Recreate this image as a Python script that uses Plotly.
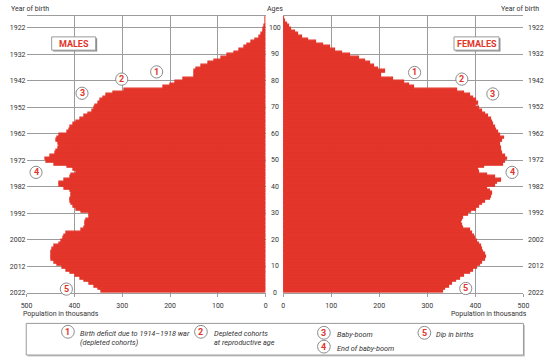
import plotly.graph_objects as go

W, H = 550, 363

ages = list(range(0, 105))
males = [344, 350, 358, 368, 378, 388, 398, 408, 417, 425,
         435, 441, 447, 448, 448, 448, 445, 441, 432, 427,
         423, 420, 416, 386, 378, 377, 376, 374, 368, 368,
         385, 395, 402, 405, 407, 408, 405, 406, 407, 420,
         431, 430, 420, 408, 405, 396, 402, 415, 441, 458,
         460, 450, 440, 437, 433, 431, 434, 437, 436, 432,
         415, 410, 407, 402, 395, 387, 378, 370, 362, 358,
         355, 350, 346, 339, 332, 318, 295, 214, 199, 189,
         171, 148, 148, 148, 144, 134, 120, 107, 93, 79,
         66, 55, 45, 38, 30, 22, 12, 8, 5, 3.5,
         2, 1.2, 0.8, 0.5, 0.3]
females = [332, 338, 346, 352, 360, 368, 377, 388, 396, 404,
           410, 414, 420, 422, 420, 416, 414, 411, 408, 404,
           400, 398, 394, 388, 374, 372, 371, 372, 375, 385,
           392, 402, 408, 415, 420, 430, 433, 435, 430, 425,
           440, 446, 453, 440, 425, 408, 405, 418, 458, 462,
           466, 462, 456, 453, 453, 452, 452, 455, 459, 452,
           448, 443, 440, 437, 434, 432, 426, 420, 414, 408,
           400, 405, 402, 395, 390, 377, 363, 272, 262, 252,
           228, 203, 204, 213, 198, 190, 182, 170, 158, 140,
           122, 108, 98, 84, 68, 52, 40, 32, 24, 17,
           12, 8, 5, 3, 1]

age_ticks = list(range(0, 101, 10))
year_labels = [str(2022 - a) for a in age_ticks]
pop_ticks = [0, 100, 200, 300, 400, 500]

RED = "#E3342A"
GRID = "#9c9c9c"
TXT = "#333333"
FONT = "Roboto, Liberation Sans, sans-serif"
FS = 7


def px(x):
    return x / W


def py(y):
    return 1 - y / H


fig = go.Figure()
fig.add_trace(go.Bar(y=[a + 0.5 for a in ages], x=males, orientation="h", width=1,
                     marker=dict(color=RED, line=dict(width=1.2, color=RED)),
                     xaxis="x", yaxis="y", showlegend=False, hoverinfo="skip"))
fig.add_trace(go.Bar(y=[a + 0.5 for a in ages], x=females, orientation="h", width=1,
                     marker=dict(color=RED, line=dict(width=1.2, color=RED)),
                     xaxis="x2", yaxis="y2", showlegend=False, hoverinfo="skip"))

ydom = [py(296), py(16)]
common_x = dict(tickvals=pop_ticks, showgrid=True, gridcolor=GRID, gridwidth=1,
                showline=True, linecolor=GRID, linewidth=1, mirror=True,
                ticks="outside", ticklen=3, tickcolor=GRID, ticklabelstandoff=3,
                tickfont=dict(size=FS, color=TXT, family=FONT), zeroline=False, fixedrange=True)
common_y = dict(range=[0, 104.5], tickvals=age_ticks, ticktext=year_labels,
                showgrid=True, gridcolor=GRID, gridwidth=1, zeroline=False,
                ticks="", tickfont=dict(size=FS, color=TXT, family=FONT), domain=ydom,
                showline=False)

fig.update_layout(
    width=W, height=H, margin=dict(l=0, r=0, t=0, b=0),
    paper_bgcolor="white", plot_bgcolor="white", bargap=0,
    font=dict(family=FONT, color=TXT),
    xaxis=dict(domain=[px(21), px(265.5)], range=[500, 0], anchor="y", **common_x),
    xaxis2=dict(domain=[px(283.3), px(529)], range=[0, 500], anchor="y2", **common_x),
    yaxis=dict(anchor="x", side="left", **common_y),
    yaxis2=dict(anchor="x2", side="right", showticklabels=False,
                **{k: v for k, v in common_y.items()}),
)

ann = []
shapes = []

# centre age labels and right-hand year labels
for a, yl in zip(age_ticks, year_labels):
    ann.append(dict(x=px(274.5), y=a, xref="paper", yref="y", text=str(a), showarrow=False,
                    font=dict(size=FS, color=TXT, family=FONT), xanchor="center", yanchor="middle"))
    ann.append(dict(x=px(531.5), y=a, xref="paper", yref="y2", text=yl, showarrow=False,
                    font=dict(size=FS, color=TXT, family=FONT), xanchor="left", yanchor="middle"))

# header texts
ann.append(dict(x=px(3), y=py(9), xref="paper", yref="paper", text="Year of birth", showarrow=False,
                font=dict(size=FS, color=TXT, family=FONT), xanchor="left", yanchor="middle"))
ann.append(dict(x=px(547), y=py(9), xref="paper", yref="paper", text="Year of birth", showarrow=False,
                font=dict(size=FS, color=TXT, family=FONT), xanchor="right", yanchor="middle"))
ann.append(dict(x=px(275), y=py(9), xref="paper", yref="paper", text="Ages", showarrow=False,
                font=dict(size=FS, color=TXT, family=FONT), xanchor="center", yanchor="middle"))
ann.append(dict(x=px(15), y=py(317), xref="paper", yref="paper", text="Population in thousands",
                showarrow=False, font=dict(size=FS, color=TXT, family=FONT), xanchor="left", yanchor="middle"))
ann.append(dict(x=px(535), y=py(317), xref="paper", yref="paper", text="Population in thousands",
                showarrow=False, font=dict(size=FS, color=TXT, family=FONT), xanchor="right", yanchor="middle"))

# MALES / FEMALES boxes
for (x0, x1, label) in [(46.7, 91.7, "MALES"), (458, 504, "FEMALES")]:
    shapes.append(dict(type="rect", xref="paper", yref="paper", x0=px(x0 + 1.5), x1=px(x1 + 1.5),
                       y0=py(52.2), y1=py(38.8), line=dict(width=0), fillcolor="#8a8a8a", layer="above"))
    shapes.append(dict(type="rect", xref="paper", yref="paper", x0=px(x0), x1=px(x1),
                       y0=py(50.7), y1=py(37.3), line=dict(width=1, color="#9a9a9a"),
                       fillcolor="white", layer="above"))
    ann.append(dict(x=px((x0 + x1) / 2), y=py(44), xref="paper", yref="paper", text="<b>%s</b>" % label,
                    showarrow=False, font=dict(size=9, color=RED, family=FONT),
                    xanchor="center", yanchor="middle"))

# legend box
shapes.append(dict(type="rect", xref="paper", yref="paper", x0=px(22), x1=px(530.5),
                   y0=py(360.5), y1=py(328.5), line=dict(width=0), fillcolor="#c8c8c8", layer="above"))
shapes.append(dict(type="rect", xref="paper", yref="paper", x0=px(20.7), x1=px(529),
                   y0=py(359), y1=py(327), line=dict(width=1, color="#9a9a9a"),
                   fillcolor="white", layer="above"))


def circ(cx, cy, n, r=6.2, fs=9):
    shapes.append(dict(type="circle", xref="paper", yref="paper", x0=px(cx - r), x1=px(cx + r),
                       y0=py(cy + r), y1=py(cy - r), line=dict(width=1, color="#8c8c8c"),
                       fillcolor="white", layer="above"))
    ann.append(dict(x=px(cx), y=py(cy), xref="paper", yref="paper", text="<b>%s</b>" % n,
                    showarrow=False, font=dict(size=fs, color=RED, family=FONT),
                    xanchor="center", yanchor="middle"))


# markers in chart
for (cx, cy, n) in [(154, 72.7, "1"), (118.3, 80, "2"), (77.7, 94.3, "3"), (30.7, 174.3, "4"),
                    (61.7, 292.3, "5"), (417.7, 73.3, "1"), (466, 80, "2"), (497.7, 95, "3"),
                    (517.3, 174.3, "4"), (470, 291.7, "5")]:
    circ(cx, cy, n)

# legend entries
legend_items = [
    (63.3, 335.5, "1", "Birth deficit due to 1914–1918 war<br>(depleted cohorts)", 74),
    (199.3, 335.5, "2", "Depleted cohorts<br>at reproductive age", 211),
    (325, 336.5, "3", "Baby-boom", 336),
    (325, 350.5, "4", "End of baby-boom", 336),
    (427.7, 336.5, "5", "Dip in births", 438),
]
for (cx, cy, n, txt, tx) in legend_items:
    circ(cx, cy, n, r=6.5, fs=9)
    ann.append(dict(x=px(tx), y=py(cy - 5), xref="paper", yref="paper",
                    text="<i>%s</i>" % txt, showarrow=False, align="left",
                    font=dict(size=7.3, color=TXT, family=FONT), xanchor="left",
                    yanchor="top"))

fig.update_layout(annotations=ann, shapes=shapes)
fig.write_html("out.html", config={"displayModeBar": False},
               post_script="document.body.style.margin='0';document.body.style.overflow='hidden';")
